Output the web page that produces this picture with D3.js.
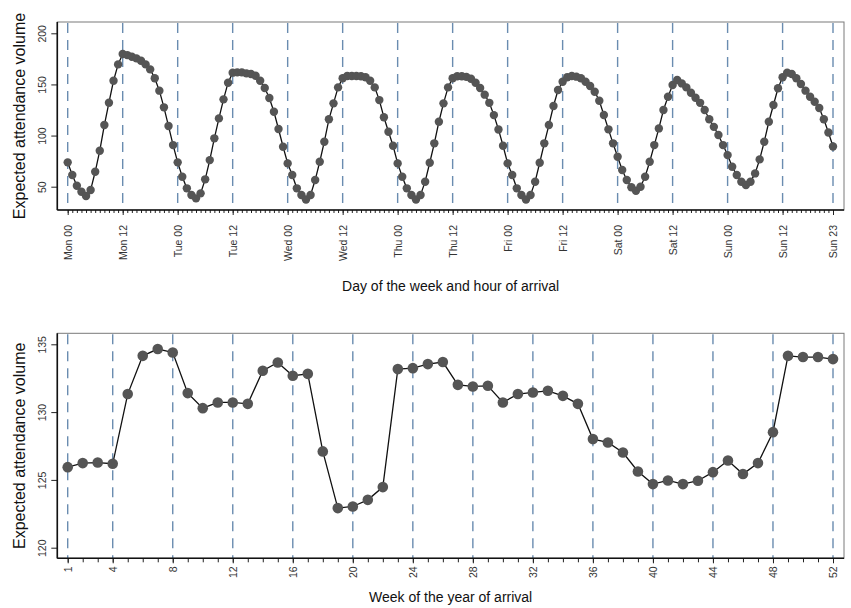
<!DOCTYPE html>
<html>
<head>
<meta charset="utf-8">
<script src="https://cdn.jsdelivr.net/npm/d3@7"></script>
<style>
  body { margin: 0; background: #fff; }
  svg { font-family: "Liberation Sans", Arial, sans-serif; }
</style>
</head>
<body>
<svg id="chart" width="851" height="608"></svg>
<script>
const canWidth = 851;
const canHeight = 608;

// hourly values, Mon 00 .. Sun 23
const monVals = [73.8, 61.4, 51, 45, 40.9, 46.7, 64.6, 85.2, 110.3, 132.1, 153.6, 169.6,
                 179.7, 178.7, 177.1, 175.5, 173.2, 169.6, 164.7, 156, 143.9, 127.6, 109.3, 90.7];
const tueVals = [73.8, 59.8, 48.4, 41.9, 38.6, 43.5, 57.2, 76, 97.3, 116.8, 135.4, 151.7,
                 161.5, 161.8, 161.8, 160.8, 160.2, 158.5, 153.6, 146.5, 136.7, 123.3, 106.4, 89.1];
const wedVals = [72.8, 61.4, 48.4, 41.9, 37.5, 41.9, 56.5, 74.4, 94, 115.9, 131.5, 147.1,
                 156, 158.2, 158.3, 158.2, 158, 157, 153.6, 147.1, 134.7, 117.9, 103.7, 90];
const thuVals = [72.8, 59.8, 48.4, 41.9, 37.5, 41.9, 54.9, 73.4, 92.4, 113.5, 131.5, 147.1,
                 156, 158, 158, 157.4, 155.5, 151.7, 146.5, 140, 132, 120, 106, 90];
const friVals = [72.8, 61.4, 48.4, 41.9, 37.5, 41.9, 54.9, 73.4, 92.4, 110.3, 128.9, 144.5,
                 152.6, 157, 158.2, 157.6, 156, 152.6, 148.4, 142.9, 134.1, 120.1, 106.1, 92.4];
const satVals = [79.3, 66.3, 56.5, 49.4, 46.1, 50, 59.8, 74.4, 90.7, 107, 125, 138,
                 149.4, 154.3, 151, 147.1, 141.9, 137, 132, 125, 116, 108.5, 100.5, 90.7];
const sunVals = [80.9, 69.5, 61.4, 54.9, 51.6, 54.9, 63, 76.7, 94, 113.5, 129.9, 146.2,
                 157, 161.5, 160.2, 156, 150.4, 143.9, 138, 133, 127, 116, 103, 89.3];
const dayNames = ['Mon', 'Tue', 'Wed', 'Thu', 'Fri', 'Sat', 'Sun'];
const hourTicks = [0, 12, 24, 36, 48, 60, 72, 84, 96, 108, 120, 132, 144, 156, 167];
const hourYTicks = [50, 100, 150, 200];

// weekly values, week 1 .. 52
const weeks = d3.range(1, 53);
const weekVals = [125.94, 126.24, 126.28, 126.19, 131.33, 134.15, 134.65, 134.4, 131.4, 130.29,
                  130.71, 130.71, 130.61, 133.05, 133.66, 132.68, 132.82, 127.1, 122.92, 123.04,
                  123.53, 124.47, 133.17, 133.24, 133.54, 133.69, 132.01, 131.89, 131.94, 130.71,
                  131.33, 131.45, 131.57, 131.2, 130.61, 128.01, 127.76, 127.02, 125.62, 124.69,
                  124.96, 124.69, 124.94, 125.57, 126.43, 125.43, 126.24, 128.52, 134.15, 134.06,
                  134.06, 133.91];
const weekTicks = [1, 4, 8, 12, 16, 20, 24, 28, 32, 36, 40, 44, 48, 52];
const weekYTicks = [120, 125, 130, 135];

const hourVals = [].concat(monVals, tueVals, wedVals, thuVals, friVals, satVals, sunVals);
const hours = d3.range(0, 168);

const plotLeft = 57.3;
const plotRight = 844;
const dotColor = '#555555';
const dashColor = '#6a8cb0';

const svg = d3.select('#chart').attr('width', canWidth).attr('height', canHeight);

function hourLabel(h) {
    const hh = h % 24;
    return dayNames[Math.floor(h / 24)] + ' ' + (hh < 10 ? '0' + hh : hh);
}

function drawPanel(cfg) {
    const g = svg.append('g');

    // frame
    g.append('rect')
      .attr('x', plotLeft).attr('y', cfg.top)
      .attr('width', plotRight - plotLeft).attr('height', cfg.bottom - cfg.top)
      .attr('fill', 'none').attr('stroke', '#7a7a7a').attr('stroke-width', 1);

    // dashed reference lines at the labelled ticks
    g.append('g').selectAll('line')
      .data(cfg.xTicks)
      .enter()
      .append('line')
      .attr('x1', d => cfg.xs(d)).attr('x2', d => cfg.xs(d))
      .attr('y1', cfg.top + 1).attr('y2', cfg.bottom)
      .attr('stroke', dashColor).attr('stroke-width', 1.4)
      .attr('stroke-dasharray', '10,7');

    // minor x ticks
    g.append('g')
      .attr('transform', `translate(0, ${cfg.bottom})`)
      .call(d3.axisBottom(cfg.xs).tickValues(cfg.minor).tickSize(cfg.minorSize).tickFormat(''))
      .call(a => a.select('.domain').remove())
      .selectAll('line').attr('stroke', '#222');

    // major x ticks and labels
    const xa = g.append('g')
      .attr('transform', `translate(0, ${cfg.bottom})`)
      .call(d3.axisBottom(cfg.xs).tickValues(cfg.xTicks).tickSize(cfg.majorSize).tickFormat(cfg.xFormat));
    xa.select('.domain').remove();
    xa.selectAll('line').attr('stroke', '#222');
    xa.selectAll('text')
      .attr('transform', 'rotate(-90)')
      .attr('x', -cfg.labelGap).attr('y', 0).attr('dy', '0.35em')
      .style('text-anchor', 'end')
      .style('font-size', '10.5px')
      .style('font-family', '"Liberation Sans", Arial, sans-serif')
      .attr('fill', '#333');

    // y axis
    const ya = g.append('g')
      .attr('transform', `translate(${plotLeft}, 0)`)
      .call(d3.axisLeft(cfg.ys).tickValues(cfg.yTicks).tickSize(6));
    ya.select('.domain').remove();
    ya.selectAll('line').attr('stroke', '#222');
    ya.selectAll('text')
      .attr('transform', 'rotate(-90)')
      .attr('x', 0).attr('y', -11).attr('dy', 0)
      .style('text-anchor', 'middle')
      .style('font-size', '10.5px')
      .style('font-family', '"Liberation Sans", Arial, sans-serif')
      .attr('fill', '#333');

    // axis lines
    g.append('line')
      .attr('x1', plotLeft).attr('x2', plotRight)
      .attr('y1', cfg.bottom).attr('y2', cfg.bottom)
      .attr('stroke', '#111').attr('stroke-width', 1.6);
    g.append('line')
      .attr('x1', plotLeft).attr('x2', plotLeft)
      .attr('y1', cfg.top).attr('y2', cfg.bottom)
      .attr('stroke', '#111').attr('stroke-width', 1.6);

    // series line
    const line = d3.line()
      .x((d, i) => cfg.xs(cfg.xVals[i]))
      .y(d => cfg.ys(d));
    g.append('path')
      .datum(cfg.yVals)
      .attr('d', line)
      .attr('fill', 'none')
      .attr('stroke', '#111')
      .attr('stroke-width', 1.3);

    g.append('g').selectAll('circle')
      .data(cfg.yVals)
      .enter()
      .append('circle')
      .attr('cx', (d, i) => cfg.xs(cfg.xVals[i]))
      .attr('cy', d => cfg.ys(d))
      .attr('r', cfg.radius)
      .attr('fill', dotColor);

    // titles
    svg.append('text')
      .attr('transform', `translate(25, ${(cfg.top + cfg.bottom) / 2}) rotate(-90)`)
      .style('text-anchor', 'middle')
      .style('font-size', '16px')
      .attr('fill', '#111')
      .text('Expected attendance volume');

    svg.append('text')
      .attr('x', (plotLeft + plotRight) / 2)
      .attr('y', cfg.titleY)
      .style('text-anchor', 'middle')
      .style('font-size', '14px')
      .attr('fill', '#111')
      .text(cfg.xTitle);
}

// top panel: hour of week
drawPanel({
    top: 22, bottom: 210,
    xs: d3.scaleLinear().domain([0, 167]).range([67.7, 833]),
    ys: d3.scaleLinear().domain([50, 200]).range([186.7, 33.3]),
    xVals: hours, yVals: hourVals,
    xTicks: hourTicks, minor: hours, yTicks: hourYTicks,
    xFormat: hourLabel,
    majorSize: 5, minorSize: 3, labelGap: 15,
    radius: 4.2,
    titleY: 291,
    xTitle: 'Day of the week and hour of arrival'
});

// bottom panel: week of year
drawPanel({
    top: 333.3, bottom: 558.3,
    xs: d3.scaleLinear().domain([1, 52]).range([67.7, 833]),
    ys: d3.scaleLinear().domain([120, 135]).range([547.7, 344.3]),
    xVals: weeks, yVals: weekVals,
    xTicks: weekTicks, minor: weeks, yTicks: weekYTicks,
    xFormat: d => d,
    majorSize: 5, minorSize: 4, labelGap: 8,
    radius: 5.3,
    titleY: 602,
    xTitle: 'Week of the year of arrival'
});
</script>
</body>
</html>
